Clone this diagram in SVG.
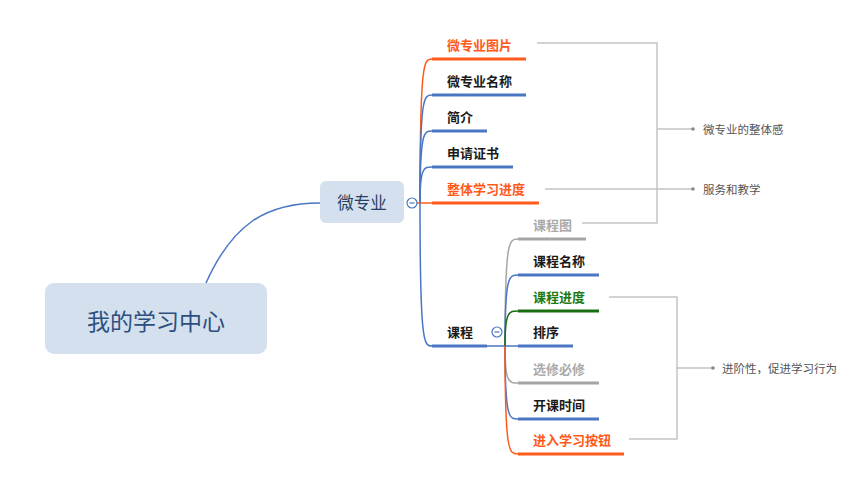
<svg xmlns="http://www.w3.org/2000/svg" width="865" height="494" viewBox="0 0 865 494">
<style>
text{font-family:"Noto Sans CJK SC","Liberation Sans",sans-serif;dominant-baseline:central}
.t{font-size:13px;font-weight:bold;fill:#1a1a1a}
.o{fill:#ff5a1a}.g{fill:#aaaaaa}.gr{fill:#1e7a14}
.c{fill:none;stroke-width:1.5}
.u{fill:none;stroke-width:3}
.b{stroke:#4a76c4}.or{stroke:#ff5a1a}.gy{stroke:#a6a6a6}.gn{stroke:#1a6e10}
.br{fill:none;stroke:#c4c4c4;stroke-width:1.5}
.n{font-size:11.5px;fill:#555}
</style>
<rect width="865" height="494" fill="#fff"/>
<g id="connectors">
<path class="c b" d="M206,283 C232,225 265,203 320,203"/>
<path class="c or" d="M420,203 C420,59 424,59 432,59"/>
<path class="c b" d="M420,203 C420,95 424,95 432,95"/>
<path class="c b" d="M420,203 C420,131 424,131 432,131"/>
<path class="c b" d="M420,203 C420,167 424,167 432,167"/>
<path class="c or" d="M417,203 L432,203"/>
<path class="c b" d="M420,203 C420,346 424,346 432,346"/>
<path class="c b" d="M487,346 L518,346"/>
<path class="c gy" d="M505,346 C505,239 509,239 518,239"/>
<path class="c b" d="M505,346 C505,275 509,275 518,275"/>
<path class="c gn" d="M505,346 C505,311 509,311 518,311"/>
<path class="c gy" d="M505,346 C505,383 509,383 518,383"/>
<path class="c b" d="M505,346 C505,419 509,419 518,419"/>
<path class="c or" d="M505,346 C505,454 509,454 518,454"/>
<path class="br" d="M537,43 H657 V223 H582 M657,129 H693 M545,189 H693"/>
<path class="br" d="M609,297 H677 V439 H629 M677,368 H713"/>
<circle cx="693" cy="129" r="1.8" fill="#888"/>
<circle cx="693" cy="189" r="1.8" fill="#888"/>
<circle cx="713" cy="368" r="1.8" fill="#888"/>
</g>
<g id="root">
<rect x="45" y="283" width="222" height="71" rx="9" fill="#d4e0ee"/>
<text x="156" y="320" font-size="23" fill="#2c4f80" text-anchor="middle">我的学习中心</text>
</g>
<g id="weizhuanye">
<rect x="320" y="181" width="84" height="42" rx="6" fill="#d4e0ee"/>
<text x="362" y="202" font-size="16.5" fill="#253f66" text-anchor="middle">微专业</text>
<circle cx="412" cy="203" r="5" fill="#fff" stroke="#4a76c4" stroke-width="1.2"/>
<path d="M409.5,203 H414.5" stroke="#4a76c4" stroke-width="1.2"/>
</g>
<g id="n1"><text class="t o" x="447" y="44">微专业图片</text><path class="u or" d="M432,59 H526"/></g>
<g id="n2"><text class="t" x="447" y="80">微专业名称</text><path class="u b" d="M432,95 H526"/></g>
<g id="n3"><text class="t" x="447" y="116">简介</text><path class="u b" d="M432,131 H487"/></g>
<g id="n4"><text class="t" x="447" y="152">申请证书</text><path class="u b" d="M432,167 H513"/></g>
<g id="n5"><text class="t o" x="447" y="188">整体学习进度</text><path class="u or" d="M432,203 H539"/></g>
<g id="kecheng"><text class="t" x="447" y="331">课程</text><path class="u b" d="M432,346 H487"/>
<circle cx="497" cy="332" r="5" fill="#fff" stroke="#4a76c4" stroke-width="1.2"/>
<path d="M494.5,332 H499.5" stroke="#4a76c4" stroke-width="1.2"/></g>
<g id="k1"><text class="t g" x="533" y="224">课程图</text><path class="u gy" d="M518,239 H586"/></g>
<g id="k2"><text class="t" x="533" y="260">课程名称</text><path class="u b" d="M518,275 H599"/></g>
<g id="k3"><text class="t gr" x="533" y="296">课程进度</text><path class="u gn" d="M518,311 H599"/></g>
<g id="k4"><text class="t" x="533" y="331">排序</text><path class="u b" d="M518,346 H573"/></g>
<g id="k5"><text class="t g" x="533" y="368">选修必修</text><path class="u gy" d="M518,383 H599"/></g>
<g id="k6"><text class="t" x="533" y="404">开课时间</text><path class="u b" d="M518,419 H599"/></g>
<g id="k7"><text class="t o" x="533" y="439">进入学习按钮</text><path class="u or" d="M518,454 H624"/></g>
<g id="s1"><text class="n" x="703" y="129">微专业的整体感</text></g>
<g id="s2"><text class="n" x="703" y="189">服务和教学</text></g>
<g id="s3"><text class="n" x="722" y="368">进阶性，促进学习行为</text></g>
</svg>
